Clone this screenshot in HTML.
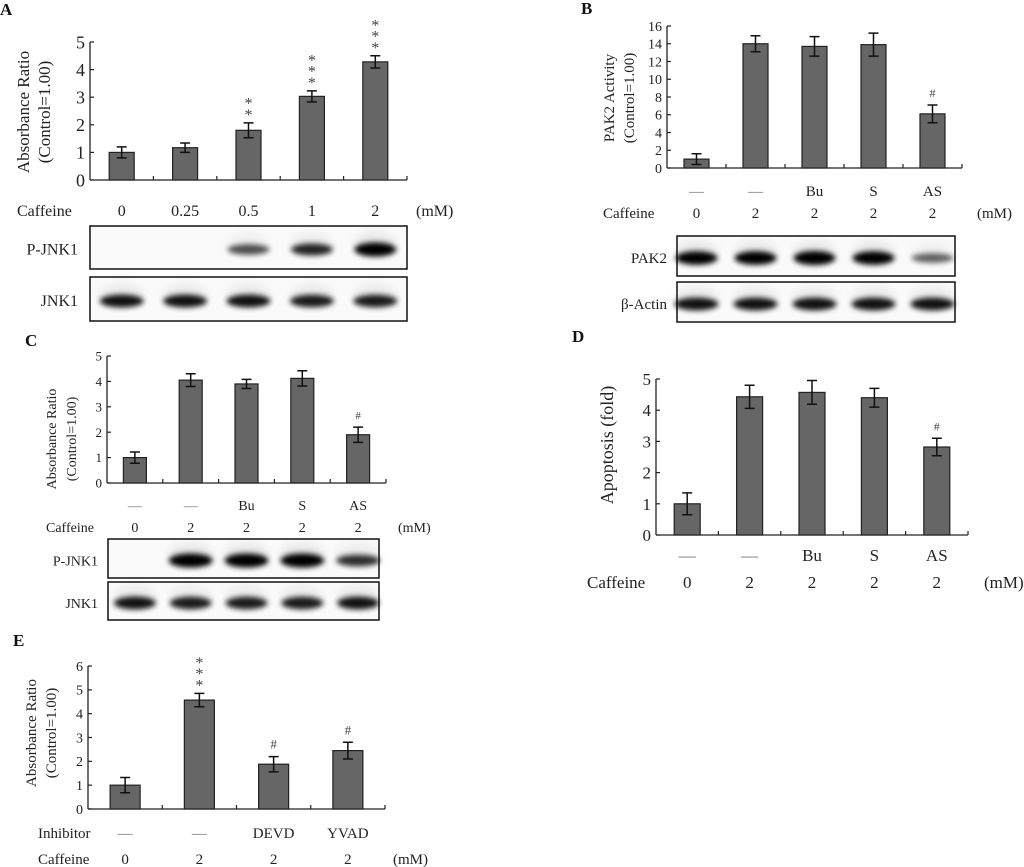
<!DOCTYPE html>
<html><head><meta charset="utf-8"><style>
body{margin:0;background:#fff}
svg{display:block;font-family:"Liberation Serif",serif}
</style></head><body>
<svg id="fig" width="1024" height="867" viewBox="0 0 1024 867">
<defs><filter id="blur" x="-20%" y="-100%" width="140%" height="300%"><feGaussianBlur stdDeviation="2.6"/></filter>
<filter id="bg" x="-10%" y="-50%" width="120%" height="200%"><feGaussianBlur stdDeviation="5"/></filter></defs>
</svg>
<script>
const catsA=["0","0.25","0.5","1","2"];
const valsA=[1.0,1.17,1.8,3.03,4.28];
const errA=[0.2,0.17,0.27,0.2,0.22];
const annA=["","","**","***","***"];
const ticksA=[0,1,2,3,4,5];
const pjnkA=[0.02,0.03,0.55,0.75,1.0];
const jnkA=[0.85,0.85,0.85,0.8,0.8];

const inhB=["—","—","Bu","S","AS"];
const cafB=["0","2","2","2","2"];
const valsB=[1.0,14.0,13.7,13.9,6.1];
const errB=[0.6,0.9,1.1,1.3,1.0];
const annB=["","","","","#"];
const ticksB=[0,2,4,6,8,10,12,14,16];
const pak2B=[0.95,0.95,1.0,0.95,0.45];
const actinB=[0.85,0.85,0.85,0.85,0.85];

const valsC=[1.0,4.05,3.9,4.12,1.9];
const errC=[0.22,0.25,0.18,0.3,0.3];
const annC=["","","","","#"];
const ticksC=[0,1,2,3,4,5];
const pjnkC=[0.0,1.0,1.0,1.0,0.7];
const jnkC=[0.85,0.8,0.8,0.8,0.85];

const valsD=[1.0,4.43,4.57,4.4,2.82];
const errD=[0.35,0.37,0.38,0.3,0.28];
const annD=["","","","","#"];
const ticksD=[0,1,2,3,4,5];

const inhE=["—","—","DEVD","YVAD"];
const cafE=["0","2","2","2"];
const valsE=[1.0,4.57,1.88,2.45];
const errE=[0.32,0.28,0.32,0.35];
const annE=["","***","#","#"];
const ticksE=[0,1,2,3,4,5,6];

const svg=document.getElementById('fig');
const NS="http://www.w3.org/2000/svg";
function mk(tag,attrs,parent,txt){const e=document.createElementNS(NS,tag);for(const k in attrs)e.setAttribute(k,attrs[k]);if(txt!==undefined)e.textContent=txt;(parent||svg).appendChild(e);return e;}

function chart(o){
  const g=mk('g',{},svg);
  
  
  const ymax=o.ticks[o.ticks.length-1];
  const ys=v=>o.y0-(v/ymax)*(o.y0-o.y1);
  const n=o.vals.length, step=(o.xe-o.x0)/n;
  const xs=i=>o.x0+step*(i+0.5);
  const ax=mk('line',{x1:o.x0,y1:o.y1,x2:o.x0,y2:o.y0,stroke:'#222','stroke-width':1.3},g);
  
  const bx=mk('line',{x1:o.x0,y1:o.y0,x2:o.xe,y2:o.y0,stroke:'#222','stroke-width':1.3},g);
  
  for(let i=1;i<=n;i++){mk('line',{x1:o.x0+step*i,y1:o.y0,x2:o.x0+step*i,y2:o.y0-4,stroke:'#222','stroke-width':1.2},g);}
  o.ticks.forEach(t=>{
    mk('line',{x1:o.x0,y1:ys(t),x2:o.x0+4,y2:ys(t),stroke:'#222','stroke-width':1.2},g);
    const tl=mk('text',{x:o.x0-5,y:ys(t)+o.tf*0.35,'text-anchor':'end','font-size':o.tf,fill:'#222'},g,String(t));
    
  });
  o.vals.forEach((v,i)=>{
    const r=mk('rect',{x:xs(i)-o.bw/2,y:ys(v),width:o.bw,height:o.y0-ys(v),fill:'#666',stroke:'#222','stroke-width':1.2},g);
    
    const e=o.err[i],c=xs(i);
    mk('path',{d:`M${c},${ys(v+e)}V${ys(v-e)}M${c-5},${ys(v+e)}H${c+5}M${c-5},${ys(v-e)}H${c+5}`,stroke:'#111','stroke-width':1.5,fill:'none'},g);
    const a=o.ann[i];
    if(a==='#'){const t=mk('text',{x:c,y:ys(v+e)-8,'text-anchor':'middle','font-size':o.af,fill:'#444'},g,'#');}
    else if(a){for(let k=0;k<a.length;k++){const t=mk('text',{x:c,y:ys(v+e)-3-k*o.sf*0.7,'text-anchor':'middle','font-size':o.sf,fill:'#444'},g,'*');}}
  });
  o.rows.forEach(r=>{
    const lab=mk('text',{x:r.lx,y:r.y,'font-size':o.cf,fill:'#222'},g,r.label);
    
    r.items.forEach((s,i)=>{const t=mk('text',{x:xs(i),y:r.y,'text-anchor':'middle','font-size':o.cf,fill:s==='—'?'#777':'#222'},g,s);});
    if(r.unit){const u=mk('text',{x:r.ux,y:r.y,'font-size':o.cf,fill:'#222'},g,'(mM)');}
  });
  o.title.forEach((t,k)=>{
    const tt=mk('text',{x:0,y:0,transform:`translate(${t.x},${o.ty}) rotate(-90)`,'text-anchor':'middle','font-size':o.yf,fill:'#222'},g,t.s);
    
  });
  const pl=mk('text',{x:o.px,y:o.py,'font-size':17,'font-weight':'bold',fill:'#111'},g,o.pl);
  
  return xs;
}
function blot(name,label,lx,x1,x2,y1,y2,xs,ints,bw,fs){
  const g=mk('g',{},svg);
  
  
  mk('rect',{x:x1,y:y1,width:x2-x1,height:y2-y1,fill:'#fafafa',stroke:'#111','stroke-width':1.5},g);
  const cy=(y1+y2)/2+2;
  ints.forEach((v,i)=>{
    if(v<=0.05)return;
    mk('ellipse',{cx:xs(i),cy:cy-6,rx:bw*0.5,ry:11,fill:'#000',opacity:0.08*v,filter:'url(#bg)'},g);
    const b=mk('ellipse',{cx:xs(i),cy:cy,rx:bw/2,ry:3+4*v,fill:'#000',opacity:Math.min(1,0.25+0.8*v),filter:'url(#blur)'},g);
    
  });
  const t=mk('text',{x:lx,y:cy+5,'text-anchor':'end','font-size':fs,fill:'#222'},g,label);
  
}

const xA=chart({name:'panel-a-chart',x0:90,xe:407,y0:180,y1:42,vals:valsA,err:errA,ann:annA,ticks:ticksA,bw:25,tf:18,af:13,sf:16,cf:16,yf:17,
  rows:[{label:'Caffeine',lx:17,y:216,items:catsA,unit:true,ux:416}],title:[{x:29,s:'Absorbance Ratio'},{x:50,s:'(Control=1.00)'}],ty:112,pl:'A',px:0,py:15});
blot('panel-a-pjnk1-blot','P-JNK1',78,90,407,226,269,xA,pjnkA,42,16);
blot('panel-a-jnk1-blot','JNK1',78,90,407,277,321,xA,jnkA,44,16);

const xB=chart({name:'panel-b-chart',x0:667,xe:962,y0:168,y1:26,vals:valsB,err:errB,ann:annB,ticks:ticksB,bw:25,tf:14,af:12,sf:14,cf:15,yf:15,
  rows:[{label:'',lx:0,y:196,items:inhB},{label:'Caffeine',lx:603,y:218,items:cafB,unit:true,ux:977}],title:[{x:614,s:'PAK2 Activity'},{x:634,s:'(Control=1.00)'}],ty:98,pl:'B',px:581,py:14});
blot('panel-b-pak2-blot','PAK2',667,677,955,236,276,xB,pak2B,42,15);
blot('panel-b-actin-blot','β-Actin',667,677,955,282,322,xB,actinB,44,15);

const xC=chart({name:'panel-c-chart',x0:107,xe:386,y0:483,y1:356,vals:valsC,err:errC,ann:annC,ticks:ticksC,bw:23,tf:13,af:11,sf:14,cf:14,yf:14,
  rows:[{label:'',lx:0,y:510,items:inhB},{label:'Caffeine',lx:46,y:532,items:cafB,unit:true,ux:398}],title:[{x:56,s:'Absorbance Ratio'},{x:76,s:'(Control=1.00)'}],ty:439,pl:'C',px:25,py:346});
blot('panel-c-pjnk1-blot','P-JNK1',98,108,379,539,578,xC,pjnkC,44,14);
blot('panel-c-jnk1-blot','JNK1',98,108,379,582,620,xC,jnkC,42,14);

chart({name:'panel-d-chart',x0:656,xe:968,y0:535,y1:379,vals:valsD,err:errD,ann:annD,ticks:ticksD,bw:26,tf:17,af:12,sf:14,cf:17,yf:18,
  rows:[{label:'',lx:0,y:561,items:inhB},{label:'Caffeine',lx:587,y:588,items:cafB,unit:true,ux:984}],title:[{x:613,s:'Apoptosis (fold)'}],ty:445,pl:'D',px:572,py:342});

chart({name:'panel-e-chart',x0:88,xe:385,y0:809,y1:666,vals:valsE,err:errE,ann:annE,ticks:ticksE,bw:30,tf:14,af:13,sf:16,cf:15,yf:15,
  rows:[{label:'Inhibitor',lx:38,y:838,items:inhE},{label:'Caffeine',lx:38,y:864,items:cafE,unit:true,ux:393}],title:[{x:36,s:'Absorbance Ratio'},{x:56,s:'(Control=1.00)'}],ty:733,pl:'E',px:13,py:646});
</script>
</body></html>
